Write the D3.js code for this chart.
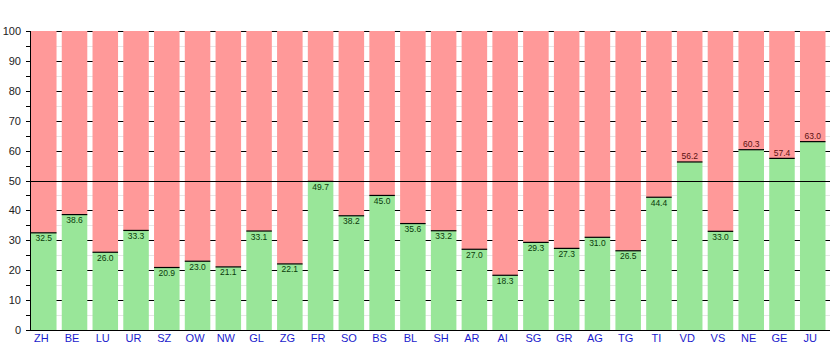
<!DOCTYPE html>
<html><head><meta charset="utf-8">
<script src="https://cdn.jsdelivr.net/npm/d3@7"></script>
<style>body{margin:0;background:#fff}svg{display:block}text{font-family:"Liberation Sans",Arial,sans-serif}</style>
</head><body><svg id="c" width="835" height="350"></svg>
<script>
const cantons = ["ZH","BE","LU","UR","SZ","OW","NW","GL","ZG","FR","SO","BS","BL","SH","AR","AI","SG","GR","AG","TG","TI","VD","VS","NE","GE","JU"];
const yesShare = [32.5,38.6,26.0,33.3,20.9,23.0,21.1,33.1,22.1,49.7,38.2,45.0,35.6,33.2,27.0,18.3,29.3,27.3,31.0,26.5,44.4,56.2,33.0,60.3,57.4,63.0];
const yTicks = [0,10,20,30,40,50,60,70,80,90,100];
const yMinor = [5,15,25,35,45,55,65,75,85,95];

const svg = d3.select("#c");
const left = 30, right = 830;
const x = d3.scaleBand().domain(cantons).range([31, 825.5]).paddingInner(0.17).paddingOuter(0);
const y = d3.scaleLinear().domain([0,100]).range([330, 31]);
const bw = x.bandwidth();

// minor gridlines
svg.append("g").selectAll("line").data(yMinor).join("line")
  .attr("x1", left).attr("x2", right)
  .attr("y1", d => Math.round(y(d))+0.5).attr("y2", d => Math.round(y(d))+0.5)
  .attr("stroke", "#e6e6e6");
// major gridlines
svg.append("g").selectAll("line").data(yTicks).join("line")
  .attr("x1", left-4).attr("x2", right)
  .attr("y1", d => Math.round(y(d))+0.5).attr("y2", d => Math.round(y(d))+0.5)
  .attr("stroke", "#000");
// minor ticks
svg.append("g").selectAll("line").data(yMinor).join("line")
  .attr("x1", left-4).attr("x2", left)
  .attr("y1", d => Math.round(y(d))+0.5).attr("y2", d => Math.round(y(d))+0.5)
  .attr("stroke", "#000");

const data = cantons.map((c,i) => ({c, v: yesShare[i]}));
const g = svg.append("g");
// red (no) part
g.selectAll("rect.no").data(data).join("rect").attr("class","no")
  .attr("x", d => x(d.c)).attr("width", bw)
  .attr("y", y(100)).attr("height", d => y(d.v) - y(100))
  .attr("fill", "#ff9999");
// green (yes) part
g.selectAll("rect.yes").data(data).join("rect").attr("class","yes")
  .attr("x", d => x(d.c)).attr("width", bw)
  .attr("y", d => y(d.v)).attr("height", d => y(0) - y(d.v))
  .attr("fill", "#99e699");
// boundary lines
g.selectAll("line.b").data(data).join("line").attr("class","b")
  .attr("x1", d => x(d.c)).attr("x2", d => x(d.c)+bw)
  .attr("y1", d => y(d.v)).attr("y2", d => y(d.v))
  .attr("stroke", "#000").attr("stroke-width", 1.2);
// value labels
g.selectAll("text.v").data(data).join("text").attr("class","v")
  .attr("x", d => x(d.c)+bw/2)
  .attr("y", d => d.v > 50 ? y(d.v) - 2.5 : y(d.v) + 8.5)
  .attr("text-anchor", "middle").attr("font-size", 8.5)
  .attr("fill", d => d.v > 50 ? "#5a1010" : "#0a3a0a")
  .text(d => d.v.toFixed(1));

// 50% line
svg.append("line").attr("x1", left).attr("x2", right)
  .attr("y1", Math.round(y(50))+0.5).attr("y2", Math.round(y(50))+0.5)
  .attr("stroke", "#000");

// axes lines
svg.append("line").attr("x1", left+0.5).attr("x2", left+0.5).attr("y1", y(100)).attr("y2", y(0)+0.5).attr("stroke","#000");
svg.append("line").attr("x1", left).attr("x2", right).attr("y1", Math.round(y(0))+0.5).attr("y2", Math.round(y(0))+0.5).attr("stroke","#000");

// y labels
svg.append("g").selectAll("text").data(yTicks).join("text")
  .attr("x", 21).attr("y", d => y(d) + 4)
  .attr("text-anchor", "end").attr("font-size", 11).attr("fill", "#222")
  .text(d => d);
// x labels
svg.append("g").selectAll("text").data(cantons).join("text")
  .attr("x", d => x(d) + bw/2 - 2.5).attr("y", 342)
  .attr("text-anchor", "middle").attr("font-size", 11).attr("fill", "#1a1acc")
  .text(d => d);
</script></body></html>
